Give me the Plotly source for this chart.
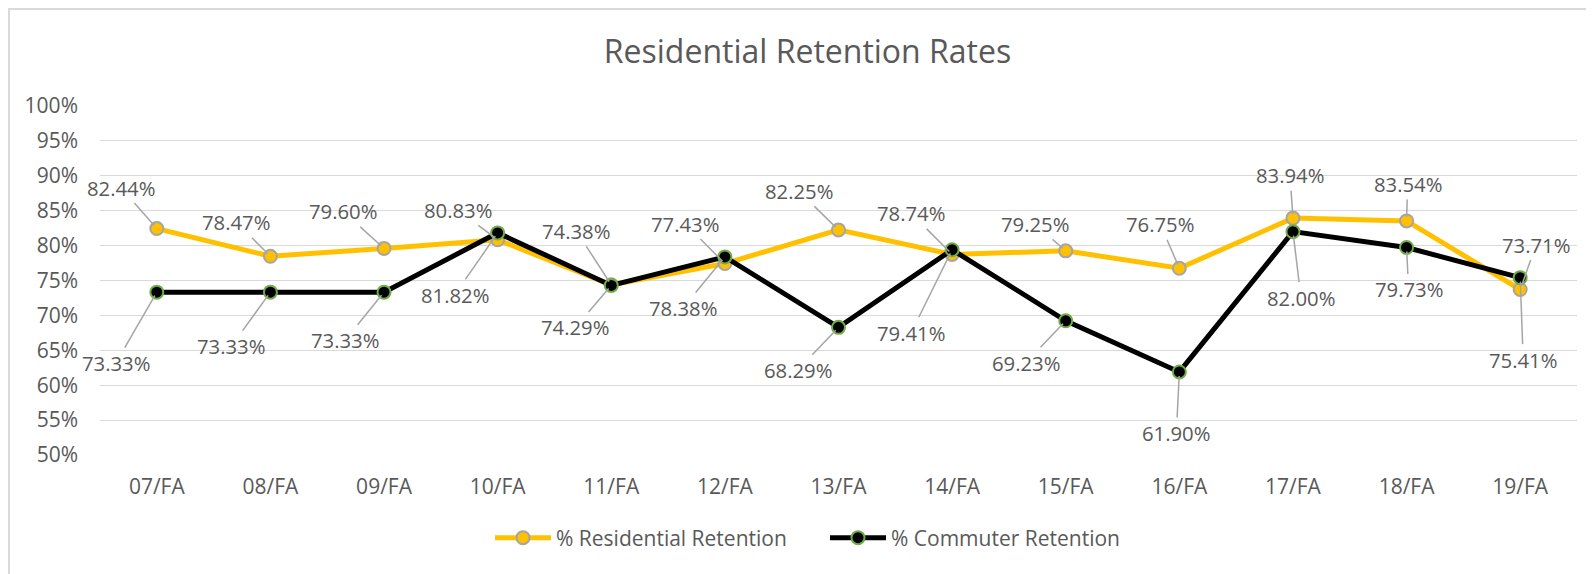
import plotly.graph_objects as go

categories = ["07/FA", "08/FA", "09/FA", "10/FA", "11/FA", "12/FA", "13/FA",
              "14/FA", "15/FA", "16/FA", "17/FA", "18/FA", "19/FA"]
residential = [82.44, 78.47, 79.60, 80.83, 74.38, 77.43, 82.25,
               78.74, 79.25, 76.75, 83.94, 83.54, 73.71]
commuter = [73.33, 73.33, 73.33, 81.82, 74.29, 78.38, 68.29,
            79.41, 69.23, 61.90, 82.00, 79.73, 75.41]
y_ticks = [50, 55, 60, 65, 70, 75, 80, 85, 90, 95, 100]

# label offsets (pixels) for leader-line data labels
res_off = [(-36, -41), (-34, -34), (-41, -37), (-40, -30), (-35, -54), (-40, -40), (-40, -39),
           (-41, -41), (-31, -27), (-19, -44), (-3, -43), (1, -37), (16, -45)]
com_off = [(-41, 71), (-39, 54), (-39, 48), (-43, 62), (-36, 42), (-42, 51), (-41, 43),
           (-41, 83), (-40, 42), (-3, 61), (8, 66), (2, 42), (3, 82)]

FONT = "Open Sans"
TXT = "#595959"
W, H = 1586, 566
L, R, T, B = 92, 17, 98, 119
PW = W - L - R
PH = H - T - B

fig = go.Figure()
fig.add_trace(go.Scatter(
    x=categories, y=[v / 100 for v in residential], mode="lines+markers",
    name="% Residential Retention", legend="legend",
    line=dict(color="#FFC000", width=5),
    marker=dict(color="#FFC000", size=13, line=dict(color="#A5A5A5", width=2)),
))
fig.add_trace(go.Scatter(
    x=categories, y=[v / 100 for v in commuter], mode="lines+markers",
    name="% Commuter Retention", legend="legend2",
    line=dict(color="#000000", width=5),
    marker=dict(color="#000000", size=13, line=dict(color="#70AD47", width=2)),
))

annotations = []
for series, offs in ((residential, res_off), (commuter, com_off)):
    for c, v, (ax, ay) in zip(categories, series, offs):
        annotations.append(dict(
            x=c, y=v / 100, xref="x", yref="y", text=f"{v:.2f}%",
            showarrow=True, arrowhead=0, arrowwidth=1.5, arrowcolor="#A5A5A5",
            ax=ax, ay=ay, standoff=4, font=dict(family=FONT, size=20.3, color=TXT),
        ))

leg_y = (PH - (530 - T)) / PH
legend_style = dict(orientation="h", yanchor="middle", y=leg_y, xanchor="left",
                    itemwidth=56,
                    font=dict(family=FONT, size=21, color=TXT), bgcolor="rgba(0,0,0,0)")

fig.update_layout(
    width=W, height=H,
    margin=dict(l=L, r=R, t=T, b=B),
    paper_bgcolor="white", plot_bgcolor="white",
    title=dict(text="Residential Retention Rates", x=(807.5 - 8) / W, xref="container",
               xanchor="center", y=1 - 44 / H, yref="container", yanchor="middle",
               font=dict(family=FONT, size=32, color=TXT)),
    font=dict(family=FONT, size=20, color=TXT),
    showlegend=True,
    legend=dict(x=(482 - L) / PW, **legend_style),
    legend2=dict(x=(817 - L) / PW, **legend_style),
    annotations=annotations,
    shapes=[dict(type="rect", xref="paper", yref="paper",
                 x0=(1 - L) / PW, x1=1.05, y0=-0.5, y1=(PH + T - 1) / PH,
                 line=dict(color="#D9D9D9", width=2), fillcolor="rgba(0,0,0,0)", layer="below")],
)
fig.update_xaxes(
    type="category", range=[-0.5, len(categories) - 0.5],
    showgrid=False, showline=False, zeroline=False,
    ticks="", ticklabelstandoff=17, tickfont=dict(family=FONT, size=21, color=TXT),
)
fig.update_yaxes(
    range=[0.5, 1.0], tickvals=[t / 100 for t in y_ticks], tickformat=".0%",
    showgrid=True, gridcolor="#D9D9D9", gridwidth=1.3, zeroline=False, showline=False,
    ticks="", ticklabelstandoff=21, tickfont=dict(family=FONT, size=21, color=TXT),
)
fig.write_html("out.html")
